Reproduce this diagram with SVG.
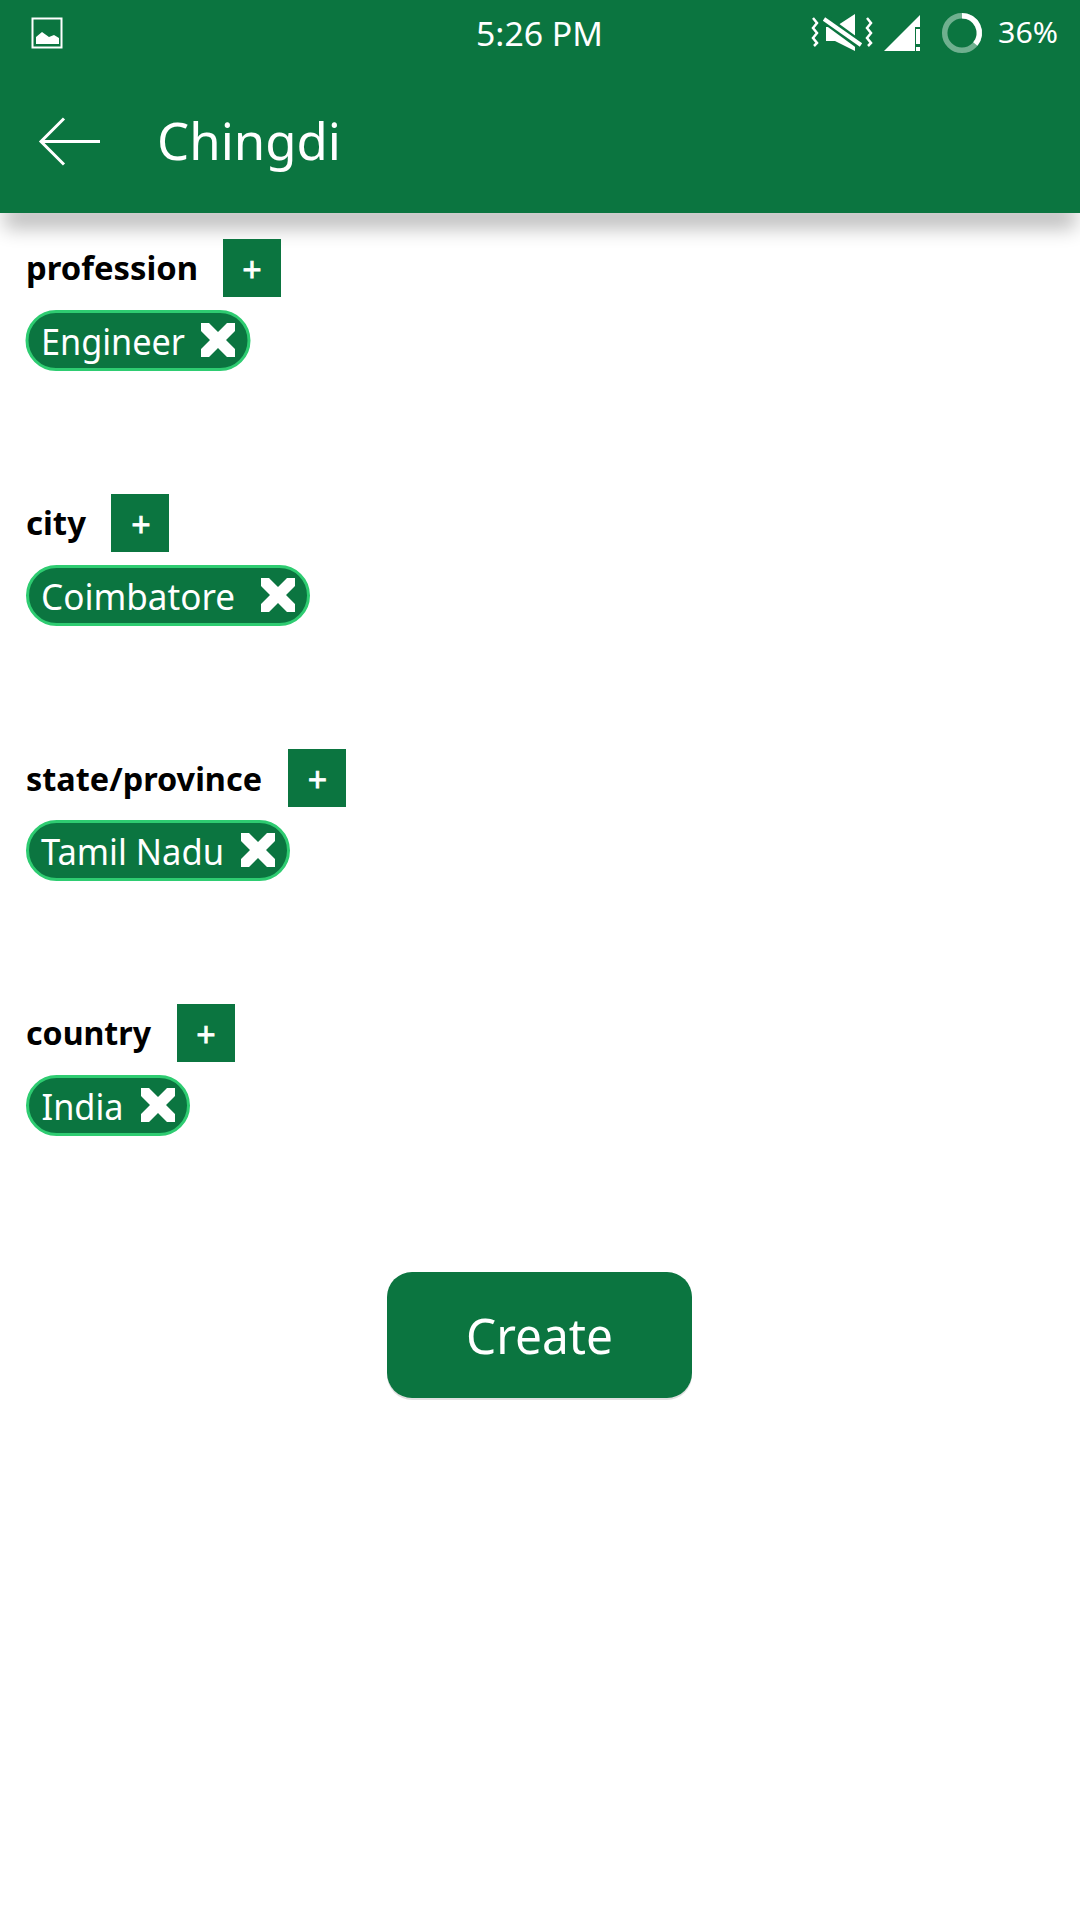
<svg xmlns="http://www.w3.org/2000/svg" width="1080" height="1920" viewBox="0 0 1080 1920">
<style>
text{font-family:"Noto Sans","Open Sans",sans-serif}
.w{fill:#fff}
.bar{fill:#0b7540}
.lab{font-size:33px;font-weight:700;fill:#000}
.chip{fill:#0b7540;stroke:#2ecc71;stroke-width:3}
.ct{font-size:36px;fill:#fff}
.pl{font-size:34px;fill:#fff;stroke:#fff;stroke-width:.8;text-anchor:middle}
</style>
<defs>
<filter id="bl" x="-5%" y="-100%" width="110%" height="300%"><feGaussianBlur stdDeviation="10"/></filter>
<polygon id="x" class="w" points="0,0 8,0 17,9 26,0 34,0 34,8 25,17 34,26 34,34 26,34 17,25 8,34 0,34 0,26 9,17 0,8"/>
</defs>
<rect width="1080" height="1920" fill="#fff"/>
<rect x="4" y="205" width="1072" height="23" fill="#000" opacity=".27" filter="url(#bl)"/>
<g id="appbar">
<rect class="bar" width="1080" height="213"/>
<g id="img-icon"><rect x="32.500" y="18.500" width="29" height="29" fill="none" stroke="#fff" stroke-width="2"/><path class="w" d="M36 44V37L42 32L49 37L54 35L59 38V44Z"/></g>
<text x="476" y="46" font-size="33" class="w" textLength="127" lengthAdjust="spacingAndGlyphs">5:26 PM</text>
<g id="mute-icon">
<path d="M813 18l4 5-4 5 4 5-4 5 4 5-3 3M867 18l4 5-4 5 4 5-4 5 4 5-3 3" fill="none" stroke="#fff" stroke-width="2.500"/>
<polygon class="w" points="826,27 835,27 855,14 855,51 835,41 826,41"/>
<path d="M822 17L863 47" stroke="#0b7540" stroke-width="9"/>
<path d="M824 19L861 45" stroke="#fff" stroke-width="4"/>
</g>
<g id="signal-icon"><polygon class="w" points="884,51 920,15 920,27 915,27 915,51"/><rect class="w" x="916" y="29" width="4" height="15"/><rect class="w" x="916" y="47" width="4" height="4"/></g>
<g id="battery-icon"><circle cx="962" cy="33" r="17.300" fill="none" stroke="#6fb08f" stroke-width="5.500"/><path d="M962 15.700A17.300 17.300 0 0 1 975.300 44.100" fill="none" stroke="#fff" stroke-width="5.500"/></g>
<text x="998" y="43" font-size="29" class="w" textLength="60" lengthAdjust="spacingAndGlyphs">36%</text>
<path id="back" d="M100 141.500H41M64 118.500L41 141.500L64 164.500" fill="none" stroke="#fff" stroke-width="3"/>
<text x="157" y="160" font-size="51" class="w" textLength="184" lengthAdjust="spacingAndGlyphs">Chingdi</text>
</g>
<g id="profession">
<text x="26" y="280" class="lab" textLength="172" lengthAdjust="spacingAndGlyphs">profession</text>
<rect class="bar" x="223" y="239" width="58" height="58"/><text x="252" y="282" class="pl">+</text>
<rect class="chip" x="27" y="311.500" width="222" height="58" rx="29"/>
<text x="41" y="355" class="ct" textLength="144" lengthAdjust="spacingAndGlyphs">Engineer</text><use href="#x" x="201" y="323"/>
</g>
<g id="city">
<text x="26" y="535" class="lab" textLength="60" lengthAdjust="spacingAndGlyphs">city</text>
<rect class="bar" x="111" y="494" width="58" height="58"/><text x="141" y="537" class="pl">+</text>
<rect class="chip" x="27.500" y="566.500" width="281" height="58" rx="29"/>
<text x="41" y="610" class="ct" textLength="194" lengthAdjust="spacingAndGlyphs">Coimbatore</text><use href="#x" x="261" y="578"/>
</g>
<g id="state">
<text x="26" y="791" class="lab" textLength="236" lengthAdjust="spacingAndGlyphs">state/province</text>
<rect class="bar" x="288" y="749" width="58" height="58"/><text x="317.500" y="792" class="pl">+</text>
<rect class="chip" x="27.500" y="821.500" width="261" height="58" rx="29"/>
<text x="41" y="864.500" class="ct" textLength="183" lengthAdjust="spacingAndGlyphs">Tamil Nadu</text><use href="#x" x="241" y="833"/>
</g>
<g id="country">
<text x="26" y="1045" class="lab" textLength="125" lengthAdjust="spacingAndGlyphs">country</text>
<rect class="bar" x="177" y="1004" width="58" height="58"/><text x="206" y="1047" class="pl">+</text>
<rect class="chip" x="27.500" y="1076.500" width="161" height="58" rx="29"/>
<text x="41.500" y="1120" class="ct" textLength="82" lengthAdjust="spacingAndGlyphs">India</text><use href="#x" x="141" y="1088"/>
</g>
<g id="create">
<rect x="387" y="1274" width="305" height="126" rx="25" fill="#000" opacity=".12"/>
<rect class="bar" x="387" y="1272" width="305" height="126" rx="25"/>
<text x="466" y="1354" font-size="50" class="w" textLength="147" lengthAdjust="spacingAndGlyphs">Create</text>
</g>
</svg>
